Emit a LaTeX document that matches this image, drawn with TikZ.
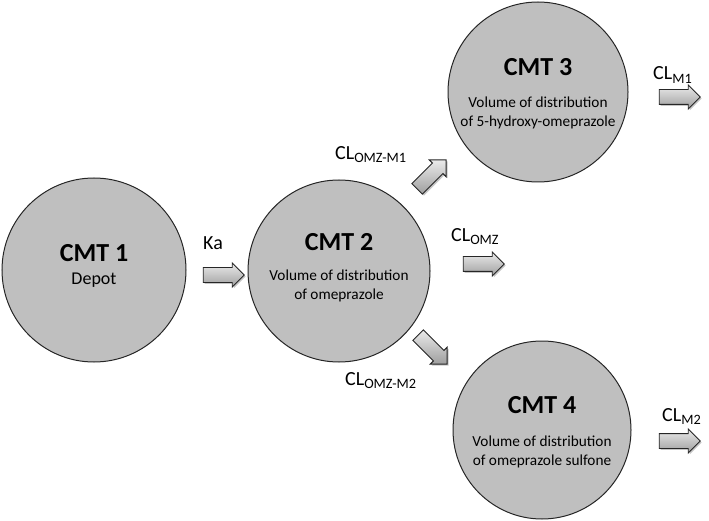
\documentclass[tikz,border=0pt]{standalone}
\usepackage{fontspec}
\setmainfont{Carlito}
\usetikzlibrary{shapes.arrows, shadows}
\newcommand{\clsub}[1]{\raisebox{-3.5pt}{\fontsize{14.3}{15}\selectfont #1}}

\begin{document}
\begin{tikzpicture}[x=1pt, y=1pt,
    cmt/.style={circle, draw=black!85, line width=1pt, fill=black!25},
    cmttitle/.style={font=\fontsize{26}{30}\selectfont\bfseries, inner sep=0pt},
    cmtdesc/.style={font=\fontsize{15.3}{19}\selectfont, align=center, inner sep=0pt},
    rate/.style={font=\fontsize{20}{22}\selectfont, inner sep=0pt, anchor=base west},
    blockarrow/.style={single arrow, draw=black!85, line width=0.9pt,
        top color=black!8, bottom color=black!38,
        text height=14pt, text depth=0pt, inner sep=0pt, minimum height=41pt,
        single arrow head extend=4.5pt,
        drop shadow={shadow xshift=1.5pt, shadow yshift=-1.5pt, opacity=0.45}}]
      \useasboundingbox (0, 0) rectangle (709, 520);
      % compartments
      \node[cmt, minimum size=184pt] (cmt1) at (94, 250)  {};
      \node[cmt, minimum size=182pt] (cmt2) at (339, 249) {};
      \node[cmt, minimum size=180pt] (cmt3) at (538, 428) {};
      \node[cmt, minimum size=178pt] (cmt4) at (542, 90)  {};
      \node[cmttitle] (cmt1t) at ([yshift=17pt]cmt1.center)  {CMT 1};
      \node[cmtdesc, font=\fontsize{18}{21}\selectfont] (cmt1d) at ([yshift=-10pt]cmt1.center) {Depot};
      \node[cmttitle] (cmt2t) at ([yshift=29pt]cmt2.center)  {CMT 2};
      \node[cmtdesc]  (cmt2d) at ([yshift=-15pt]cmt2.center) {Volume of distribution\\of omeprazole};
      \node[cmttitle] (cmt3t) at ([yshift=25pt]cmt3.center)  {CMT 3};
      \node[cmtdesc]  (cmt3d) at ([yshift=-21pt]cmt3.center) {Volume of distribution\\of 5-hydroxy-omeprazole};
      \node[cmttitle] (cmt4t) at ([yshift=25pt]cmt4.center)  {CMT 4};
      \node[cmtdesc]  (cmt4d) at ([yshift=-22pt]cmt4.center) {Volume of distribution\\of omeprazole sulfone};
      % flows
      \node[blockarrow]            (ka)    at (220, 245) {};
      \node[blockarrow]            (clomz) at (480, 256) {};
      \node[blockarrow, rotate=45]  (clm1in) at (429, 343) {};
      \node[blockarrow, rotate=-45] (clm2in) at (430, 173) {};
      \node[blockarrow]            (clm1)  at (676, 423) {};
      \node[blockarrow]            (clm2)  at (676, 79)  {};
      \node[rate] (kal)     at (203, 270.5) {Ka};
      \node[rate] (clomzl)  at (451, 278.5) {CL\clsub{OMZ}};
      \node[rate] (clm1inl) at (335, 360.5) {CL\clsub{OMZ-M1}};
      \node[rate] (clm2inl) at (345, 135)   {CL\clsub{OMZ-M2}};
      \node[rate] (clm1l)   at (653, 440)   {CL\clsub{M1}};
      \node[rate] (clm2l)   at (662, 99)    {CL\clsub{M2}};
    \end{tikzpicture}
\end{document}
